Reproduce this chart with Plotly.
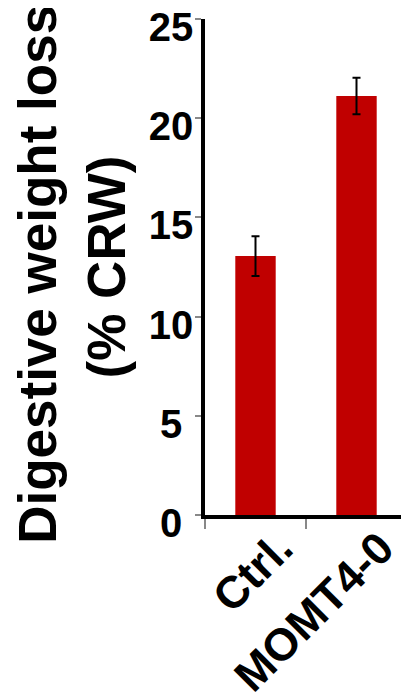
import plotly.graph_objects as go

categories = ["Ctrl.", "MOMT4-0"]
values = [13.05, 21.12]
errors = [1.0, 0.92]
y_tickvals = [0, 5, 10, 15, 20, 25]
y_ticktext = ["0\u00a0", "5\u00a0", "10", "15", "20", "25"]

FONT = "Liberation Sans, Arial, Helvetica, sans-serif"

fig = go.Figure(
    go.Bar(
        x=categories,
        y=values,
        marker=dict(color="#C00000", line=dict(width=0)),
        error_y=dict(type="data", array=errors, visible=True,
                     color="black", thickness=2, width=4),
    )
)

fig.update_layout(
    width=401,
    height=687,
    margin=dict(l=197, r=2, t=11, b=180),
    paper_bgcolor="white",
    plot_bgcolor="white",
    bargap=0.6,
    showlegend=False,
    font=dict(family=FONT, color="black"),
)

fig.update_xaxes(
    type="category",
    tickson="boundaries",
    ticks="outside",
    ticklen=10,
    tickwidth=2,
    tickcolor="#888888",
    tickangle=-45,
    tickfont=dict(family=FONT, size=45, color="black", weight="bold"),
    ticklabeloverflow="allow",
    ticklabelshift=24,
    ticklabelstandoff=-15,
    showline=True,
    linecolor="black",
    linewidth=3.5,
    showgrid=False,
    zeroline=False,
    automargin=False,
)

fig.update_yaxes(
    range=[0, 25],
    tickvals=y_tickvals,
    ticktext=y_ticktext,
    ticks="outside",
    ticklen=6,
    tickwidth=2,
    tickcolor="#888888",
    tickfont=dict(family=FONT, size=40, color="black", weight="bold"),
    ticklabeloverflow="allow",
    ticklabelstandoff=-6,
    ticklabelshift=8,
    showline=True,
    linecolor="black",
    linewidth=3.5,
    showgrid=False,
    zeroline=False,
    automargin=False,
    title=dict(
        text="Digestive weight loss\u00a0<br>(% CRW)\u00a0",
        font=dict(family=FONT, size=53, color="black", weight="bold"),
    ),
)

fig.write_html("out.html")
